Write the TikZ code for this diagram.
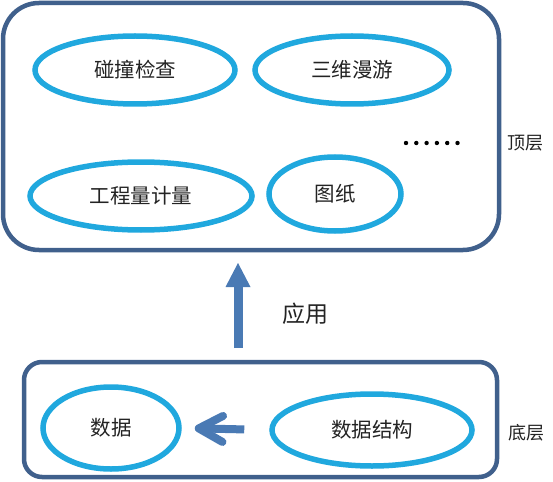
\documentclass[tikz,border=0pt]{standalone}
\usepackage{fontspec}
\newfontfamily\cjk{Noto Sans CJK SC}
\usetikzlibrary{shapes.geometric,arrows.meta}
\definecolor{frameblue}{RGB}{64,96,140}
\definecolor{ellblue}{RGB}{32,168,222}
\definecolor{arrowblue}{RGB}{74,122,180}
\definecolor{txt}{RGB}{35,35,35}
\begin{document}
\begin{tikzpicture}[x=1pt,y=-1pt,
  layer/.style={draw=frameblue, line width=4.5pt, rounded corners=#1, inner sep=0pt},
  item/.style={ellipse, draw=ellblue, line width=5.5pt, inner sep=0pt, text=txt,
    font=\cjk\fontsize{20.5}{20.5}\selectfont},
  side/.style={text=txt, inner sep=0pt, font=\cjk\fontsize{18}{18}\selectfont},
  bigarrow/.style={draw=arrowblue, line width=9pt, -{Triangle[length=24pt,width=25pt,line width=0pt]}},
  smallarrow/.style={draw=arrowblue, line width=8pt, -{Straight Barb[length=24pt,width=26pt,round]}}
]
\useasboundingbox (0,0) rectangle (553,481);
% layers
\node[layer=36pt, minimum width=496pt, minimum height=247pt] (top) at (251,126.5) {};
\node[layer=18pt, minimum width=473pt, minimum height=115pt] (bottom) at (260.5,419.5) {};
% top items
\node[item, minimum width=200pt, minimum height=68pt] (collide) at (135,70) {碰撞检查};
\node[item, minimum width=194pt, minimum height=68pt] (roam) at (352,70) {三维漫游};
\node[item, minimum width=222pt, minimum height=68pt] (quant) at (141,196) {工程量计量};
\node[item, minimum width=132pt, minimum height=74pt] (draw) at (335,194) {图纸};
\foreach \i in {0,...,5} \fill[black] (406+\i*10.3,143) circle (2.2);
% bottom items
\node[item, minimum width=136pt, minimum height=82pt] (data) at (111,428) {数据};
\node[item, minimum width=200pt, minimum height=72pt] (struct) at (372,430) {数据结构};
% side labels
\node[side] (toplabel) at (525,143) {顶层};
\node[side] (botlabel) at (526,433) {底层};
\node[side, font=\cjk\fontsize{23}{23}\selectfont] (apply) at (305,314) {应用};
% arrows
\coordinate (upS) at (238,348);
\coordinate (upE) at (238,263);
\draw[bigarrow] (upS) -- (upE);
\draw[smallarrow, shorten <=25pt, shorten >=13pt] (struct.west) -- (data.east);
\end{tikzpicture}
\end{document}
